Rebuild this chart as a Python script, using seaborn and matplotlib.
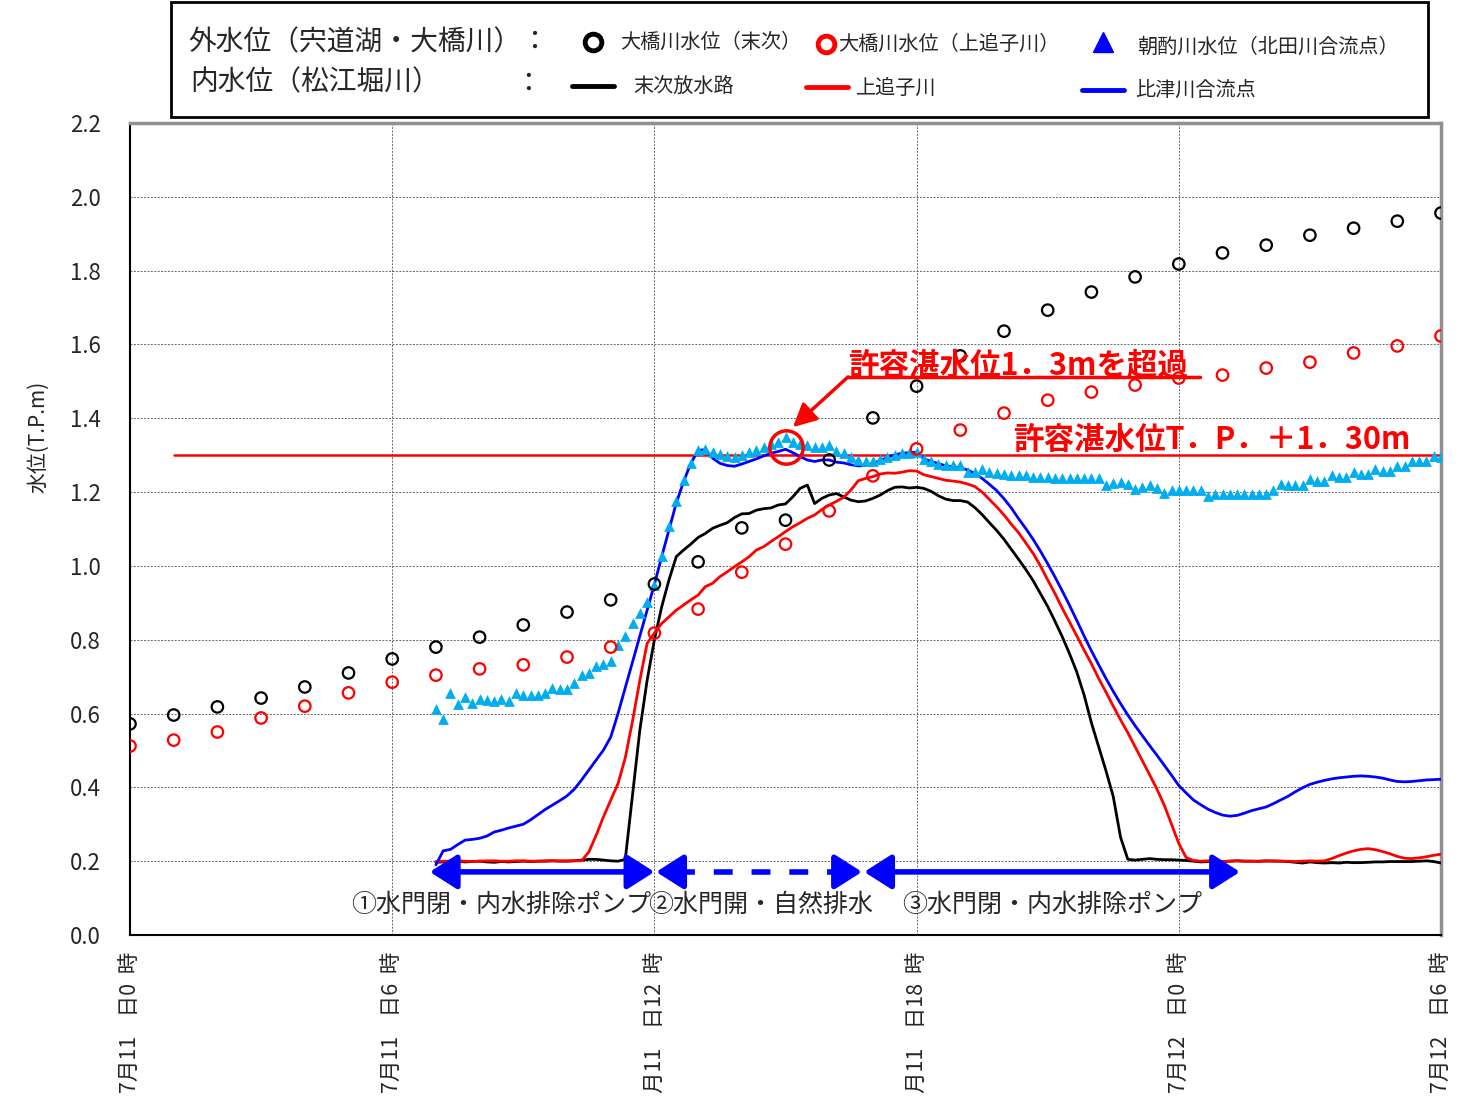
import numpy as np
import matplotlib
matplotlib.use("Agg")
import matplotlib.pyplot as plt
import seaborn as sns
from matplotlib.lines import Line2D
from matplotlib.patches import Rectangle

# hourly outer water levels, 7/11 0:00 .. 7/12 6:00
hours = list(range(31))
suetsugu_outer = [0.572, 0.596, 0.618, 0.642, 0.672, 0.710, 0.748, 0.780, 0.807, 0.840, 0.875,
                  0.908, 0.951, 1.011, 1.103, 1.124, 1.287, 1.401, 1.487, 1.569, 1.636, 1.693,
                  1.742, 1.783, 1.818, 1.848, 1.869, 1.896, 1.915, 1.934, 1.956]
kamioiko_outer = [0.512, 0.528, 0.550, 0.588, 0.620, 0.656, 0.685, 0.704, 0.721, 0.732, 0.753,
                  0.780, 0.818, 0.883, 0.983, 1.059, 1.149, 1.244, 1.317, 1.368, 1.414, 1.449,
                  1.471, 1.490, 1.509, 1.517, 1.536, 1.552, 1.577, 1.596, 1.623]

# 10-minute records from 7/11 7:00 to 7/12 6:00
asakumi = [0.611, 0.584, 0.655, 0.626, 0.646, 0.629, 0.639, 0.636, 0.634, 0.639, 0.633, 0.655,
           0.649, 0.651, 0.651, 0.655, 0.669, 0.666, 0.666, 0.684, 0.704, 0.711, 0.729, 0.734,
           0.743, 0.787, 0.810, 0.846, 0.873, 0.902, 0.949,
           1.027, 1.108, 1.177, 1.233, 1.278, 1.314, 1.316, 1.309, 1.303, 1.298, 1.296, 1.301,
           1.309, 1.313, 1.321, 1.330, 1.337, 1.348, 1.336, 1.330, 1.327, 1.323, 1.323, 1.327,
           1.310, 1.307, 1.294, 1.288, 1.283, 1.283, 1.290, 1.294, 1.301, 1.305, 1.307, 1.309,
           1.290, 1.283, 1.277, 1.273, 1.273, 1.273, 1.254, 1.254, 1.262, 1.254, 1.252, 1.250,
           1.246, 1.246, 1.245, 1.242, 1.242, 1.241, 1.237, 1.237, 1.237, 1.237, 1.237, 1.237,
           1.237, 1.219, 1.225, 1.227, 1.222, 1.208, 1.215, 1.219, 1.212, 1.198, 1.205, 1.205,
           1.205, 1.205, 1.205, 1.190, 1.195, 1.195, 1.195, 1.195, 1.195, 1.195, 1.195, 1.195,
           1.205, 1.221, 1.219, 1.219, 1.219, 1.235, 1.229, 1.229, 1.245, 1.240, 1.241, 1.254,
           1.248, 1.248, 1.262, 1.258, 1.258, 1.272, 1.270, 1.283, 1.283, 1.283, 1.297, 1.295]

suetsugu_inner = [0.197, 0.198, 0.199, 0.200, 0.198, 0.199, 0.200, 0.198, 0.197, 0.199, 0.198,
                  0.199, 0.200, 0.199, 0.200, 0.200, 0.201, 0.200, 0.200, 0.201, 0.203, 0.205,
                  0.205, 0.203, 0.201, 0.200, 0.205, 0.380, 0.555, 0.690, 0.800,
                  0.889, 0.962, 1.025, 1.043, 1.059, 1.077, 1.088, 1.102, 1.110, 1.117, 1.131,
                  1.141, 1.142, 1.151, 1.155, 1.157, 1.165, 1.168, 1.187, 1.210, 1.219, 1.169,
                  1.183, 1.192, 1.196, 1.187, 1.178, 1.174, 1.176, 1.183, 1.192, 1.204, 1.213,
                  1.214, 1.211, 1.213,
                  1.210, 1.202, 1.190, 1.181, 1.177, 1.177, 1.173, 1.158, 1.139, 1.117, 1.096,
                  1.072, 1.045, 1.018, 0.990, 0.960, 0.925, 0.890, 0.850, 0.808, 0.762, 0.712,
                  0.650, 0.575, 0.510, 0.445, 0.375, 0.265, 0.205, 0.203, 0.205, 0.207, 0.205,
                  0.204, 0.204, 0.203, 0.202, 0.200, 0.198, 0.199, 0.200, 0.199, 0.200, 0.201,
                  0.200, 0.200, 0.200, 0.201, 0.200, 0.200, 0.199, 0.197, 0.195, 0.198, 0.196,
                  0.195, 0.196, 0.195, 0.197, 0.196, 0.196, 0.197, 0.198, 0.198, 0.199, 0.199,
                  0.199, 0.199, 0.200, 0.201, 0.199, 0.195]

kamioiko_inner = [0.199, 0.200, 0.200, 0.201, 0.200, 0.199, 0.200, 0.201, 0.201, 0.200, 0.200,
                  0.201, 0.201, 0.200, 0.200, 0.201, 0.201, 0.201, 0.201, 0.201, 0.201, 0.225,
                  0.270, 0.320, 0.365, 0.410, 0.480, 0.580, 0.690, 0.790, 0.818,
                  0.844, 0.862, 0.880, 0.894, 0.908, 0.921, 0.944, 0.953, 0.971, 0.984, 0.998,
                  1.011, 1.025, 1.043, 1.052, 1.066, 1.079, 1.093, 1.106, 1.117, 1.129, 1.138,
                  1.153, 1.165, 1.175, 1.186, 1.206, 1.231, 1.237, 1.242, 1.249, 1.252, 1.251,
                  1.254, 1.258, 1.257,
                  1.247, 1.242, 1.237, 1.232, 1.230, 1.227, 1.222, 1.215, 1.200, 1.180, 1.160,
                  1.138, 1.113, 1.090, 1.062, 1.034, 1.000, 0.962, 0.925, 0.885, 0.848, 0.810,
                  0.772, 0.735, 0.695, 0.658, 0.620, 0.583, 0.548, 0.510, 0.472, 0.434, 0.395,
                  0.352, 0.300, 0.248, 0.210, 0.202, 0.200, 0.201, 0.200, 0.199, 0.200, 0.201,
                  0.200, 0.200, 0.199, 0.200, 0.201, 0.200, 0.200, 0.199, 0.200, 0.201, 0.200,
                  0.201, 0.207, 0.215, 0.222, 0.228, 0.232, 0.234, 0.231, 0.226, 0.220, 0.213,
                  0.208, 0.207, 0.209, 0.212, 0.216, 0.219]

hizu_inner = [0.190, 0.228, 0.232, 0.245, 0.257, 0.259, 0.262, 0.268, 0.279, 0.284, 0.290,
              0.295, 0.300, 0.312, 0.326, 0.340, 0.352, 0.364, 0.377, 0.395, 0.420, 0.447,
              0.474, 0.501, 0.536, 0.600, 0.670, 0.740, 0.810, 0.880, 0.950,
              1.025, 1.097, 1.170, 1.228, 1.278, 1.313, 1.315, 1.292, 1.278, 1.272, 1.270,
              1.276, 1.283, 1.290, 1.298, 1.305, 1.310, 1.316, 1.307, 1.296, 1.287, 1.283,
              1.287, 1.287, 1.281, 1.279, 1.274, 1.271, 1.272, 1.278, 1.285, 1.294, 1.301,
              1.305, 1.307, 1.308,
              1.290, 1.283, 1.277, 1.271, 1.268, 1.266, 1.260, 1.250, 1.237, 1.221, 1.204,
              1.182, 1.157, 1.128, 1.101, 1.072, 1.040, 1.006, 0.970, 0.932, 0.893, 0.852,
              0.810, 0.770, 0.732, 0.695, 0.660, 0.627, 0.596, 0.567, 0.540, 0.513, 0.487,
              0.460, 0.433, 0.405, 0.385, 0.366, 0.353, 0.341, 0.332, 0.325, 0.322, 0.324,
              0.330, 0.337, 0.342, 0.347, 0.356, 0.366, 0.376, 0.388, 0.399, 0.408, 0.414,
              0.419, 0.423, 0.426, 0.428, 0.430, 0.431, 0.430, 0.428, 0.425, 0.420, 0.416,
              0.415, 0.416, 0.418, 0.420, 0.421, 0.422]

allowable_level = 1.30
tick_hours = [0, 6, 12, 18, 24, 30]
# the 12h / 18h labels lose their leading "7" at the bottom edge in the source chart
tick_labels = ["7月11    日0  時", "7月11    日6  時", "月11    日12  時",
               "月11    日18  時", "7月12    日0  時", "7月12    日6  時"]
phase_labels = ["①水門閉・内水排除ポンプ", "②水門開・自然排水", "③水門閉・内水排除ポンプ"]

t10 = 7 + np.arange(len(asakumi)) / 6

sns.set_style("white")
plt.rcParams['font.family'] = ['Noto Sans CJK JP', 'DejaVu Sans']

LIGHT_BLUE = "#00ADEF"

fig = plt.figure(figsize=(14.58, 11.01), dpi=100)
ax = fig.add_axes([130 / 1458, 1 - 935 / 1101, 1311 / 1458, 812 / 1101])

# inner water level lines
sns.lineplot(x=t10, y=suetsugu_inner, color="black", lw=2, estimator=None, ax=ax, zorder=3)
sns.lineplot(x=t10, y=kamioiko_inner, color="#FF0000", lw=2, estimator=None, ax=ax, zorder=3)
sns.lineplot(x=t10, y=hizu_inner, color="#0000FF", lw=2, estimator=None, ax=ax, zorder=3)

ax.plot([1, 30], [allowable_level, allowable_level], color="#FF0000", lw=1.8, zorder=2)

# outer water level markers
sns.scatterplot(x=t10, y=asakumi, marker="^", s=60, color=LIGHT_BLUE, linewidth=0, ax=ax, zorder=4)
sns.scatterplot(x=hours, y=suetsugu_outer, marker="o", s=68, facecolor="none",
                edgecolor="black", linewidth=1.6, ax=ax, zorder=5)
sns.scatterplot(x=hours, y=kamioiko_outer, marker="o", s=68, facecolor="none",
                edgecolor="#FF0000", linewidth=1.6, ax=ax, zorder=5)

ax.set_xlim(0, 30)
ax.set_ylim(0, 2.2)
ax.set_xticks(tick_hours)
ax.set_xticks(range(31), minor=True)
ax.set_xticklabels(tick_labels, rotation=90, fontsize=15.5)
ax.set_yticks(np.arange(0, 2.21, 0.2))
ax.set_yticks(np.arange(0.1, 2.2, 0.2), minor=True)
ax.set_yticklabels([f"{v:.1f}" for v in np.arange(0, 2.21, 0.2)], fontsize=16)
ax.tick_params(axis="both", which="both", direction="in")
ax.tick_params(axis="both", which="major", length=0)
ax.tick_params(axis="x", which="minor", length=5, width=0.8)
ax.tick_params(axis="y", which="minor", length=5, width=0.8)
ax.tick_params(axis="y", which="major", pad=21)
ax.tick_params(axis="x", which="major", pad=12)
ax.grid(True, which="major", color="#666666", linestyle=(0, (2, 1.5)), lw=0.7)
ax.set_xlabel("")
ax.set_ylabel("")
for side in ["left", "bottom"]:
    ax.spines[side].set_color("black")
    ax.spines[side].set_linewidth(1.5)
for side in ["top", "right"]:
    ax.spines[side].set_color("#909090")
    ax.spines[side].set_linewidth(2.5)

fig.text(38 / 1458, 1 - 437 / 1101, "水位(T.P.m)", rotation=90, ha="center", va="center", fontsize=15)

# phase arrows
y_arr = 0.171
head = "head_length=0.55,head_width=0.35"
ax.annotate("", xy=(6.86, y_arr), xytext=(12.0, y_arr),
            arrowprops=dict(arrowstyle="<|-|>," + head, color="#0000FF", lw=4,
                            mutation_scale=30, shrinkA=0, shrinkB=0))
ax.plot([12.5, 16.2], [y_arr, y_arr], color="#0000FF", lw=4, linestyle=(0, (3.4, 3.4)))
ax.annotate("", xy=(12.04, y_arr), xytext=(12.6, y_arr),
            arrowprops=dict(arrowstyle="-|>," + head, color="#0000FF", lw=4,
                            mutation_scale=30, shrinkA=0, shrinkB=0))
ax.annotate("", xy=(16.75, y_arr), xytext=(16.2, y_arr),
            arrowprops=dict(arrowstyle="-|>," + head, color="#0000FF", lw=4,
                            mutation_scale=30, shrinkA=0, shrinkB=0))
ax.annotate("", xy=(16.8, y_arr), xytext=(25.4, y_arr),
            arrowprops=dict(arrowstyle="<|-|>," + head, color="#0000FF", lw=4,
                            mutation_scale=30, shrinkA=0, shrinkB=0))
for xc, lab in zip([8.49, 14.44, 21.1], phase_labels):
    ax.text(xc, 0.081, lab, ha="center", va="center", fontsize=18)

# allowable level annotations
ax.plot([15.0], [1.322], marker="o", ms=24, mfc="none", mec="#FF0000", mew=2.5, zorder=6)
ax.plot([16.43, 24.48], [1.512, 1.512], color="#FF0000", lw=2.5, zorder=6)
ax.annotate("", xy=(15.17, 1.376), xytext=(16.43, 1.512),
            arrowprops=dict(arrowstyle="-|>,head_length=0.7,head_width=0.35", color="#FF0000",
                            lw=2.5, mutation_scale=20, shrinkA=0, shrinkB=0), zorder=6)
ax.text(16.43, 1.543, "許容湛水位1．3mを超過", color="#FF0000", fontsize=22,
        fontweight="bold", ha="left", va="center", zorder=6)
ax.text(20.2, 1.341, "許容湛水位T．P．＋1．30m", color="#FF0000", fontsize=22,
        fontweight="bold", ha="left", va="center", zorder=6)

# legend box (figure coordinates)
def fx(px):
    return px / 1458

def fy(py):
    return 1 - py / 1101

fig.add_artist(Rectangle((fx(171), fy(117)), fx(1428) - fx(171), fy(2) - fy(117),
                         transform=fig.transFigure, fill=False, ec="black", lw=2))
fig.text(fx(188), fy(42), "外水位（宍道湖・大橋川）：", fontsize=20, ha="left", va="center")
fig.text(fx(190), fy(82), "内水位（松江堀川）", fontsize=20, ha="left", va="center")
fig.text(fx(528), fy(84), "：", fontsize=20, ha="center", va="center")

fig.add_artist(Line2D([fx(593)], [fy(42)], marker="o", ms=12, mfc="none", mec="black", mew=3.5,
                      transform=fig.transFigure))
fig.add_artist(Line2D([fx(826)], [fy(44)], marker="o", ms=12, mfc="none", mec="#FF0000", mew=3.5,
                      transform=fig.transFigure))
fig.add_artist(Line2D([fx(1103)], [fy(42)], marker="^", ms=14, mfc="#0000FF", mec="#0000FF",
                      transform=fig.transFigure))
fig.add_artist(Line2D([fx(572), fx(614)], [fy(86), fy(86)], color="black", lw=3.5,
                      transform=fig.transFigure))
fig.add_artist(Line2D([fx(806), fx(848)], [fy(87), fy(87)], color="#FF0000", lw=3.5,
                      transform=fig.transFigure))
fig.add_artist(Line2D([fx(1082), fx(1124)], [fy(90), fy(90)], color="#0000FF", lw=3.5,
                      transform=fig.transFigure))
fig.text(fx(620), fy(42), "大橋川水位（末次）", fontsize=14.5, ha="left", va="center")
fig.text(fx(838), fy(44), "大橋川水位（上追子川）", fontsize=14.5, ha="left", va="center")
fig.text(fx(1137), fy(47), "朝酌川水位（北田川合流点）", fontsize=14.5, ha="left", va="center")
fig.text(fx(633), fy(86), "末次放水路", fontsize=14.5, ha="left", va="center")
fig.text(fx(856), fy(88), "上追子川", fontsize=14.5, ha="left", va="center")
fig.text(fx(1135), fy(90), "比津川合流点", fontsize=14.5, ha="left", va="center")

fig.savefig("out.png", dpi=100)
